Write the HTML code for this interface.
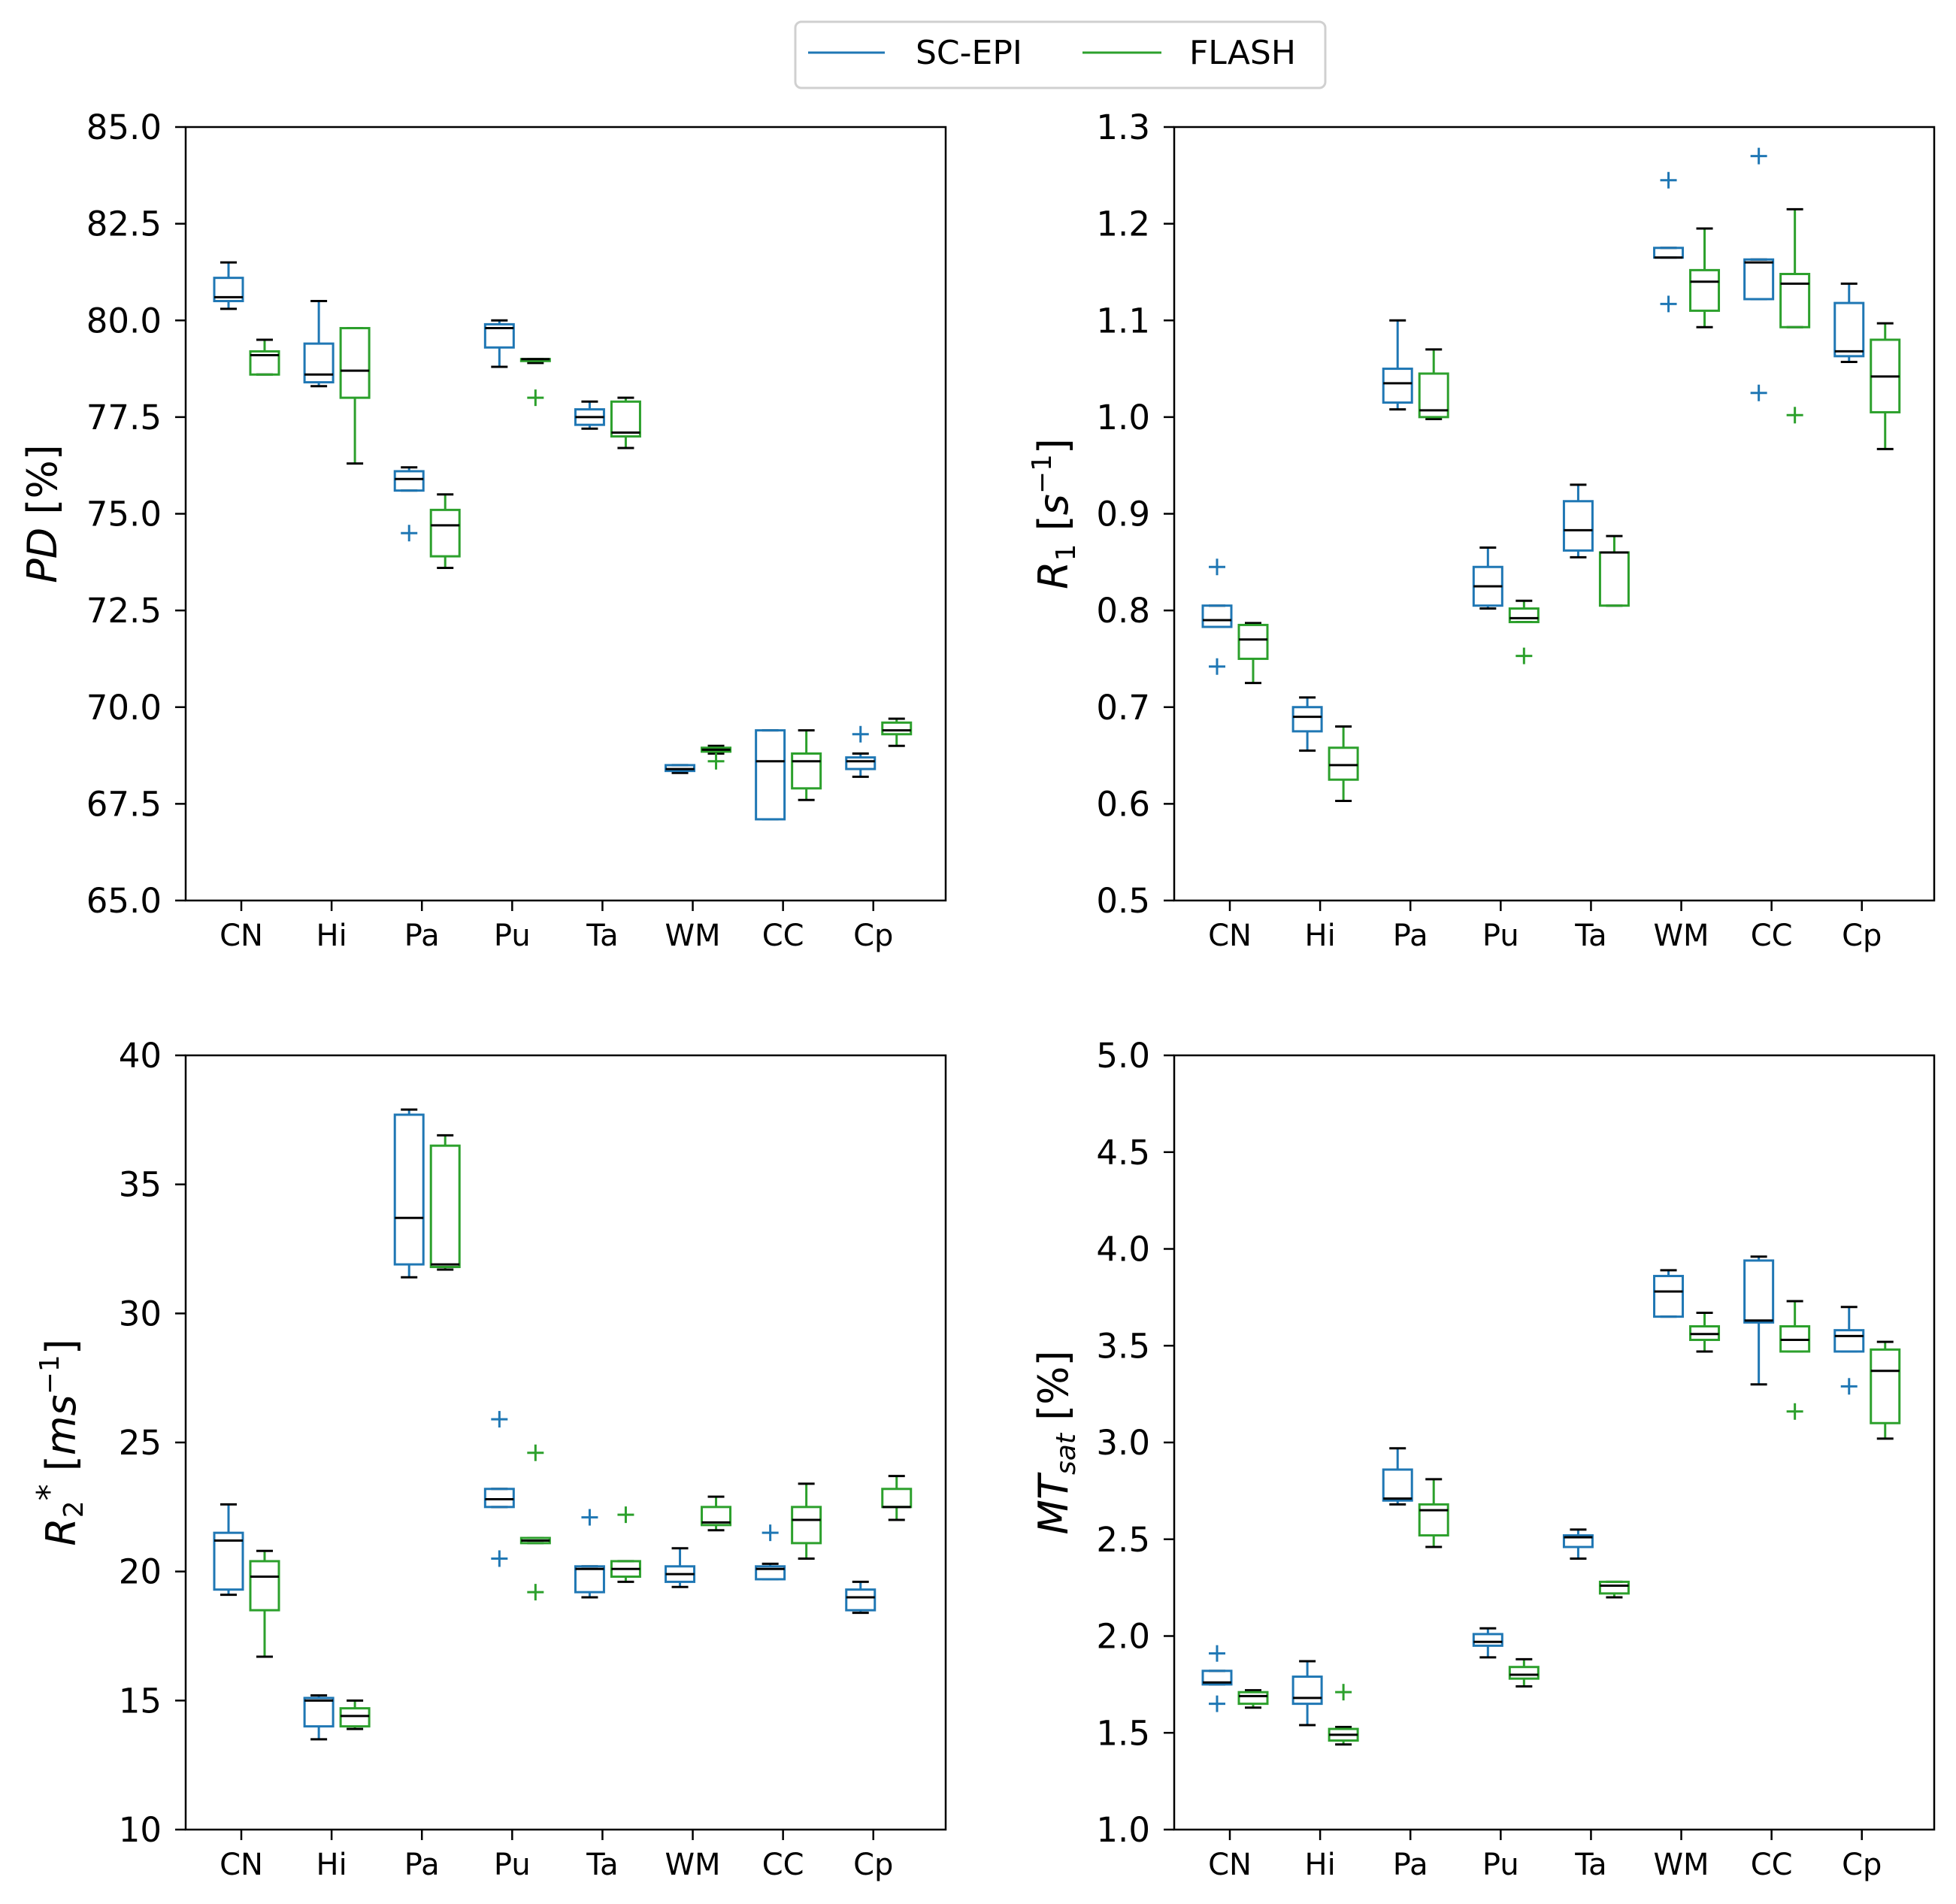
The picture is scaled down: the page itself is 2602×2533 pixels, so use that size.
<!DOCTYPE html>
<html><head><meta charset="utf-8"><style>
html,body{margin:0;padding:0;background:#fff;}
svg{display:block;font-family:"DejaVu Sans","Liberation Sans",sans-serif;}
</style></head><body>
<svg id="fig" width="2602" height="2533" viewBox="0 0 2602 2533" xmlns="http://www.w3.org/2000/svg">
<rect width="2602" height="2533" fill="#fff"/>
<g>
<rect x="1058" y="29" width="705" height="88" rx="8" fill="#fff" stroke="#d0d0d0" stroke-width="3"/>
<line x1="1075" y1="70" x2="1177" y2="70" stroke="#1f77b4" stroke-width="3"/>
<text x="1218" y="85" font-size="44">SC-EPI</text>
<line x1="1440" y1="70" x2="1545" y2="70" stroke="#2ca02c" stroke-width="3"/>
<text x="1582" y="85" font-size="44">FLASH</text>
</g>
</svg>
<script>
const categories=["CN","Hi","Pa","Pu","Ta","WM","CC","Cp"];
// each box: [whiskLo, q1, median, q3, whiskHi, outliers]
const pdSC=[[80.3,80.5,80.6,81.1,81.5,[]],[78.3,78.4,78.6,79.4,80.5,[]],[75.6,75.6,75.9,76.1,76.2,[74.5]],[78.8,79.3,79.8,79.9,80.0,[]],[77.2,77.3,77.5,77.7,77.9,[]],[68.3,68.35,68.4,68.5,68.5,[]],[67.1,67.1,68.6,69.4,69.4,[]],[68.2,68.4,68.6,68.7,68.8,[69.3]]];
const pdFL=[[78.6,78.6,79.1,79.2,79.5,[]],[76.3,78.0,78.7,79.8,79.8,[]],[73.6,73.9,74.7,75.1,75.5,[]],[78.9,78.95,79.0,79.0,79.0,[78.0]],[76.7,77.0,77.1,77.9,78.0,[]],[68.8,68.85,68.9,68.95,69.0,[68.6]],[67.6,67.9,68.6,68.8,69.4,[]],[69.0,69.3,69.4,69.6,69.7,[]]];
const r1SC=[[0.783,0.783,0.79,0.805,0.805,[0.845,0.742]],[0.655,0.675,0.69,0.70,0.71,[]],[1.008,1.015,1.035,1.05,1.10,[]],[0.802,0.805,0.825,0.845,0.865,[]],[0.855,0.862,0.883,0.913,0.93,[]],[1.165,1.165,1.165,1.175,1.175,[1.245,1.117]],[1.122,1.122,1.16,1.163,1.163,[1.27,1.025]],[1.057,1.063,1.068,1.118,1.138,[]]];
const r1FL=[[0.725,0.75,0.77,0.785,0.787,[]],[0.603,0.625,0.64,0.658,0.68,[]],[0.998,1.0,1.007,1.045,1.07,[]],[0.788,0.788,0.792,0.802,0.81,[0.753]],[0.805,0.805,0.86,0.86,0.877,[]],[1.093,1.11,1.14,1.152,1.195,[]],[1.093,1.093,1.138,1.148,1.215,[1.002]],[0.967,1.005,1.042,1.08,1.097,[]]];
const r2SC=[[19.1,19.3,21.2,21.5,22.6,[]],[13.5,14.0,15.0,15.1,15.2,[]],[31.4,31.9,33.7,37.7,37.9,[]],[22.5,22.5,22.8,23.2,23.2,[25.9,20.5]],[19.0,19.2,20.1,20.2,20.2,[22.1]],[19.4,19.6,19.9,20.2,20.9,[]],[19.7,19.7,20.1,20.2,20.3,[21.5]],[18.4,18.5,19.0,19.3,19.6,[]]];
const r2FL=[[16.7,18.5,19.8,20.4,20.8,[]],[13.9,14.0,14.4,14.7,15.0,[]],[31.7,31.8,31.9,36.5,36.9,[]],[21.1,21.1,21.2,21.3,21.3,[24.6,19.2]],[19.6,19.8,20.1,20.4,20.4,[22.2]],[21.6,21.8,21.9,22.5,22.9,[]],[20.5,21.1,22.0,22.5,23.4,[]],[22.0,22.5,22.5,23.2,23.7,[]]];
const mtSC=[[1.75,1.75,1.76,1.82,1.82,[1.91,1.65]],[1.54,1.65,1.68,1.79,1.87,[]],[2.68,2.70,2.71,2.86,2.97,[]],[1.89,1.95,1.97,2.01,2.04,[]],[2.40,2.46,2.51,2.52,2.55,[]],[3.65,3.65,3.78,3.86,3.89,[]],[3.30,3.62,3.63,3.94,3.96,[]],[3.47,3.47,3.55,3.58,3.70,[3.29]]];
const mtFL=[[1.63,1.65,1.69,1.71,1.72,[]],[1.44,1.46,1.49,1.52,1.53,[1.71]],[2.46,2.52,2.65,2.68,2.81,[]],[1.74,1.78,1.80,1.84,1.88,[]],[2.20,2.22,2.26,2.28,2.28,[]],[3.47,3.53,3.56,3.60,3.67,[]],[3.47,3.47,3.53,3.60,3.73,[3.16]],[3.02,3.10,3.37,3.48,3.52,[]]];
const pdTicks=["65.0","67.5","70.0","72.5","75.0","77.5","80.0","82.5","85.0"];
const r1Ticks=["0.5","0.6","0.7","0.8","0.9","1.0","1.1","1.2","1.3"];
const r2Ticks=["10","15","20","25","30","35","40"];
const mtTicks=["1.0","1.5","2.0","2.5","3.0","3.5","4.0","4.5","5.0"];

const NS="http://www.w3.org/2000/svg";
const svg=document.getElementById('fig');
function mk(tag,attrs,parent){const e=document.createElementNS(NS,tag);for(const k in attrs)e.setAttribute(k,attrs[k]);(parent||svg).appendChild(e);return e;}

function panel(name,L,R,T,B,ticks,sc,fl,labelHTML,labelX){
  const g=mk('g',{});
  
  
  const lo=parseFloat(ticks[0]),hi=parseFloat(ticks[ticks.length-1]);
  const y=v=>B-(v-lo)/(hi-lo)*(B-T);
  const W=R-L;
  const xt=i=>L+W*0.0732+i*W*0.1188;
  ticks.forEach(t=>{const yy=y(parseFloat(t));
    const l=mk('line',{x1:L-14,x2:L,y1:yy,y2:yy,stroke:'#000','stroke-width':2.5},g);
    
    
    const tx=mk('text',{x:L-32,y:yy+16,'font-size':45,'text-anchor':'end'},g);tx.textContent=t;
    
    
  });
  categories.forEach((c,i)=>{const xx=xt(i);
    const l=mk('line',{x1:xx,x2:xx,y1:B,y2:B+14,stroke:'#000','stroke-width':2.5},g);
    
    
    const tx=mk('text',{x:xx,y:B+60,'font-size':40,'text-anchor':'middle'},g);tx.textContent=c;
    
    
  });
  function box(d,cx,col,sname){
    const bg=mk('g',{},g);
    
    
    const [wl,q1,md,q3,wh,out]=d;const hw=19,cw=11;
    mk('line',{x1:cx,x2:cx,y1:y(wl),y2:y(q1),stroke:col,'stroke-width':3},bg);
    mk('line',{x1:cx,x2:cx,y1:y(q3),y2:y(wh),stroke:col,'stroke-width':3},bg);
    mk('line',{x1:cx-cw,x2:cx+cw,y1:y(wl),y2:y(wl),stroke:'#000','stroke-width':3},bg);
    mk('line',{x1:cx-cw,x2:cx+cw,y1:y(wh),y2:y(wh),stroke:'#000','stroke-width':3},bg);
    mk('rect',{x:cx-hw,y:y(q3),width:2*hw,height:Math.max(0.5,y(q1)-y(q3)),fill:'none',stroke:col,'stroke-width':3},bg);
    mk('line',{x1:cx-hw,x2:cx+hw,y1:y(md),y2:y(md),stroke:'#000','stroke-width':3},bg);
    out.forEach(o=>{const oy=y(o);
      mk('line',{x1:cx-11,x2:cx+11,y1:oy,y2:oy,stroke:col,'stroke-width':3},bg);
      mk('line',{x1:cx,x2:cx,y1:oy-11,y2:oy+11,stroke:col,'stroke-width':3},bg);});
  }
  categories.forEach((c,i)=>{box(sc[i],xt(i)-17,'#1f77b4','box-sc-epi-'+c);box(fl[i],xt(i)+31,'#2ca02c','box-flash-'+c);});
  const fr=mk('rect',{x:L,y:T,width:W,height:B-T,fill:'none',stroke:'#000','stroke-width':2.5},g);
  
  
  const lab=mk('text',{x:labelX,y:(T+B)/2,'font-size':54,'text-anchor':'middle',transform:`rotate(-90 ${labelX} ${(T+B)/2})`},g);
  lab.innerHTML=labelHTML;
  
  
}
panel('pd',247,1258,169,1198,pdTicks,pdSC,pdFL,'<tspan font-style="italic">PD</tspan> [%]',75);
panel('r1',1562,2573,169,1198,r1Ticks,r1SC,r1FL,'<tspan font-style="italic">R</tspan><tspan font-size="36" dy="10">1</tspan><tspan dy="-10"> [</tspan><tspan font-style="italic">s</tspan><tspan font-size="36" dy="-22">−1</tspan><tspan dy="22">]</tspan>',1420);
panel('r2',247,1258,1404,2434,r2Ticks,r2SC,r2FL,'<tspan font-style="italic">R</tspan><tspan font-size="36" dy="10">2</tspan><tspan font-size="44" dy="-30">*</tspan><tspan dy="20"> [</tspan><tspan font-style="italic">ms</tspan><tspan font-size="36" dy="-22">−1</tspan><tspan dy="22">]</tspan>',100);
panel('mt',1562,2573,1404,2434,mtTicks,mtSC,mtFL,'<tspan font-style="italic">MT</tspan><tspan font-size="36" font-style="italic" dy="10">sat</tspan><tspan dy="-10"> [%]</tspan>',1420);
</script>
</body></html>
